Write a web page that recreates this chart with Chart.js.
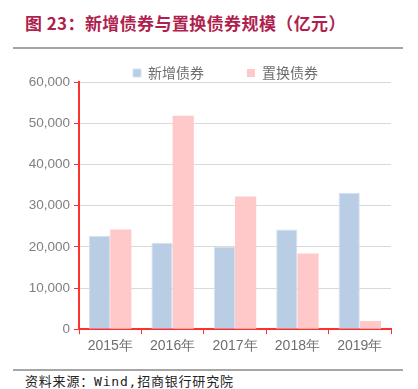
<!DOCTYPE html>
<html>
<head>
<meta charset="utf-8">
<script src="https://cdn.jsdelivr.net/npm/chart.js@4"></script>
<style>
	body { margin: 0; width: 418px; height: 389px; background: #fff; position: relative; overflow: hidden; }
	.title { position: absolute; left: 25px; top: 10px; font: bold 17px "Noto Sans CJK SC", sans-serif; color: #b01f4e; white-space: nowrap; letter-spacing: 0.4px; }
	.rule { position: absolute; left: 13px; width: 390px; height: 2px; background: #a6a6a6; }
	.source { position: absolute; left: 25px; top: 371px; font: 13px "DejaVu Sans Mono", "Noto Sans CJK SC", monospace; color: #222; white-space: nowrap; letter-spacing: 0.8px; }
	.wrap { position: absolute; left: 0; top: 15px; width: 418px; height: 344px; }
</style>
</head>
<body>
<div class="title">图 23：新增债券与置换债券规模（亿元）</div>
<div class="rule" style="top:47px"></div>
<div class="wrap"><canvas id="chart"></canvas></div>
<div class="rule" style="top:369px"></div>
<div class="source">资料来源：Wind,招商银行研究院</div>
<script>
// data (亿元)
const years = [ "2015年", "2016年", "2017年", "2018年", "2019年" ];
const newBonds = [ 22700, 21000, 20100, 24200, 33100 ];
const swapBonds = [ 24200, 51800, 32200, 18400, 2000 ];
const yTicks = [ 0, 10000, 20000, 30000, 40000, 50000, 60000 ];

const RED = "#ff3030";
const AXIS_FONT = "'Liberation Sans', Arial, sans-serif";

// nudge the legend so it sits where the original one does
const legendShift = {
	id: "legendShift"
	, afterLayout( chart ) {
		const lg = chart.legend;
		lg.left += 30;
		lg.right += 30;
		lg.top += 8;
		lg.bottom += 8;
	}
};

new Chart( document.getElementById( "chart" ), {
	  type: "bar"
	, data: {
		  labels: years
		, datasets: [
			  { label: "新增债券", data: newBonds, backgroundColor: "#b9cde5", borderColor: "#d6e1ef", borderWidth: 1 }
			, { label: "置换债券", data: swapBonds, backgroundColor: "#ffc9c9", borderWidth: 0 }
		]
	}
	, options: {
		  responsive: true
		, maintainAspectRatio: false
		, animation: false
		, layout: { padding: { left: 0, right: 27, top: 0, bottom: 0 } }
		, datasets: { bar: { categoryPercentage: 0.68, barPercentage: 1 } }
		, plugins: {
			  legend: {
				  position: "top"
				, labels: {
					  boxWidth: 8
					, boxHeight: 8
					, padding: 43
					, color: "#6e6e6e"
					, font: { family: "'Noto Sans CJK SC', sans-serif", size: 14 }
				}
			}
			, tooltip: { enabled: false }
		}
		, scales: {
			  x: {
				  grid: { drawOnChartArea: false, drawTicks: true, tickColor: RED, tickLength: 5, offset: true }
				, border: { color: RED, width: 2 }
				, ticks: { color: "#6e6e6e", font: { family: AXIS_FONT, size: 14 }, padding: 4 }
			}
			, y: {
				  min: 0
				, max: 60000
				, afterFit( scale ) { scale.width = 79; }
				, afterBuildTicks( scale ) { scale.ticks = yTicks.map( v => ( { value: v } ) ); }
				, grid: { color: "#d9d9d9", lineWidth: 1, tickColor: RED, tickLength: 5 }
				, border: { color: RED, width: 2 }
				, ticks: { color: "#7f7f7f", font: { family: AXIS_FONT, size: 13.5 }, padding: 4 }
			}
		}
	}
	, plugins: [ legendShift ]
} );
</script>
</body>
</html>
